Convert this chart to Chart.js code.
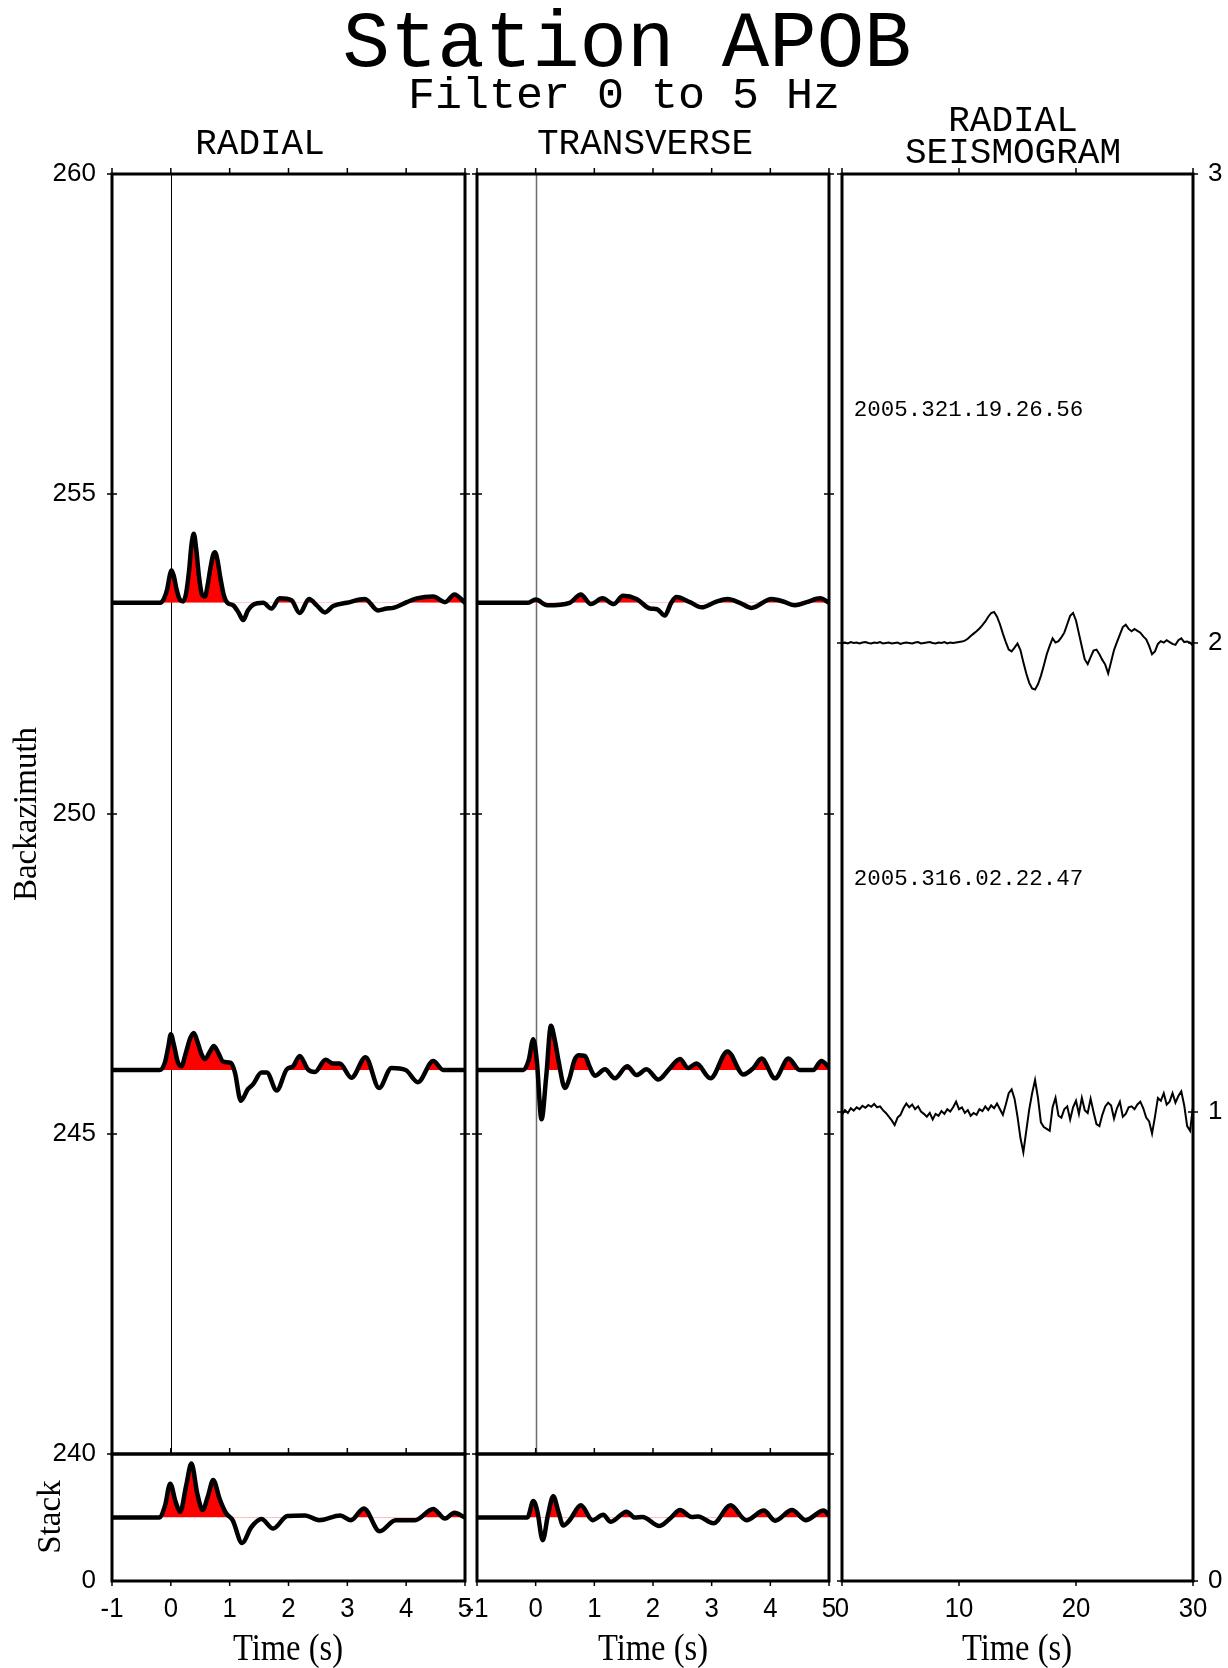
<!DOCTYPE html>
<html>
<head>
<meta charset="utf-8">
<title>Station APOB</title>
<script src="https://cdn.jsdelivr.net/npm/chart.js@4.4.0/dist/chart.umd.min.js"></script>
<style>
  html, body { margin: 0; padding: 0; background: #fff; }
  #page { position: relative; width: 1228px; height: 1668px; overflow: hidden; background: #fff; }
  #page canvas { position: absolute; left: 0; top: 0; }
</style>
</head>
<body>
<div id="page">
  <canvas id="radialMain" width="1228" height="1668"></canvas>
  <canvas id="radialStack" width="1228" height="1668"></canvas>
  <canvas id="transverseMain" width="1228" height="1668"></canvas>
  <canvas id="transverseStack" width="1228" height="1668"></canvas>
  <canvas id="seismograms" width="1228" height="1668"></canvas>
</div>
<script>
// ---------- station / events ----------
const stationName = 'APOB';
const filterText = 'Filter 0 to 5 Hz';
const eventIds = ['2005.321.19.26.56', '2005.316.02.22.47'];
const eventBackazimuth = [253.3, 246.0];
const eventLevel = [2, 1];

// ---------- receiver functions, event 2005.321 (baz 253.3) ----------
const radialTime1 = [-1, -0.18, -0.12, -0.06, -0.02, 0.01, 0.05, 0.1, 0.16, 0.21, 0.26, 0.31, 0.35, 0.39, 0.43, 0.48, 0.53, 0.58, 0.63, 0.68, 0.72, 0.75, 0.79, 0.84, 0.9, 0.96, 1.06, 1.15, 1.23, 1.31, 1.4, 1.57, 1.71, 1.85, 2.05, 2.19, 2.35, 2.48, 2.62, 2.76, 2.99, 3.3, 3.52, 3.67, 3.78, 4.01, 4.18, 4.46, 4.66, 4.82, 5];
const radialAmp1 = [0, 0, 0.06, 0.22, 0.42, 0.51, 0.42, 0.2, 0.04, 0.02, 0.15, 0.5, 0.9, 1.08, 0.85, 0.4, 0.13, 0.1, 0.3, 0.58, 0.75, 0.79, 0.68, 0.4, 0.12, 0.0, -0.04, -0.15, -0.27, -0.12, -0.03, 0, -0.09, 0.07, 0.04, -0.16, 0.06, -0.04, -0.15, -0.05, 0, 0.06, -0.12, -0.09, -0.08, 0.01, 0.07, 0.10, 0.01, 0.13, 0];
const transverseTime1 = [-1, -0.13, 0.0, 0.2, 0.58, 0.77, 0.94, 1.14, 1.33, 1.49, 1.72, 1.95, 2.07, 2.2, 2.31, 2.4, 2.63, 2.83, 3.06, 3.27, 3.48, 3.68, 4.02, 4.22, 4.42, 4.62, 4.85, 5];
const transverseAmp1 = [0, 0, 0.05, -0.04, 0, 0.13, -0.02, 0.07, -0.02, 0.11, 0.06, -0.09, -0.1, -0.2, 0.0, 0.09, 0.01, -0.07, 0.01, 0.06, 0, -0.08, 0.06, 0.02, -0.04, 0.01, 0.07, 0];

// ---------- receiver functions, event 2005.316 (baz 246.0) ----------
const radialTime2 = [-1, -0.19, -0.1, -0.04, 0.0, 0.05, 0.12, 0.18, 0.25, 0.33, 0.39, 0.45, 0.52, 0.58, 0.66, 0.73, 0.8, 0.89, 1.02, 1.09, 1.19, 1.31, 1.4, 1.54, 1.63, 1.8, 1.97, 2.08, 2.19, 2.33, 2.45, 2.63, 2.76, 2.87, 3.07, 3.31, 3.54, 3.75, 3.99, 4.2, 4.46, 4.63, 5];
const radialAmp2 = [0, 0, 0.12, 0.38, 0.56, 0.4, 0.12, 0.06, 0.25, 0.5, 0.58, 0.45, 0.25, 0.17, 0.28, 0.375, 0.28, 0.13, 0.11, -0.04, -0.48, -0.30, -0.22, -0.04, -0.04, -0.32, 0.01, 0.06, 0.22, 0.01, -0.03, 0.16, 0.10, 0.10, -0.12, 0.20, -0.28, 0.03, 0, -0.19, 0.14, 0, 0];
const transverseTime2 = [-1, -0.21, -0.12, -0.04, 0.02, 0.1, 0.18, 0.26, 0.33, 0.39, 0.5, 0.58, 0.66, 0.73, 0.84, 0.92, 1.01, 1.18, 1.35, 1.56, 1.72, 1.89, 2.09, 2.29, 2.46, 2.6, 2.74, 2.98, 3.27, 3.54, 3.71, 3.85, 4.08, 4.31, 4.5, 4.73, 4.87, 5];
const transverseAmp2 = [0, 0, 0.15, 0.48, 0.14, -0.77, -0.1, 0.69, 0.45, 0.14, -0.28, -0.12, 0.15, 0.23, 0.22, 0.05, -0.09, 0.01, -0.13, 0.06, -0.08, 0.01, -0.15, 0.03, 0.17, 0.03, 0.10, -0.13, 0.29, -0.07, 0.03, 0.18, -0.13, 0.18, 0, 0, 0.14, 0.04];

// ---------- stacks ----------
const stackBase = 120;
const stackRadialTime = [-1, -0.2, -0.1, -0.01, 0.08, 0.16, 0.26, 0.35, 0.45, 0.54, 0.63, 0.72, 0.83, 0.94, 1.05, 1.21, 1.37, 1.54, 1.74, 1.98, 2.28, 2.52, 2.88, 3.06, 3.28, 3.55, 3.82, 4.15, 4.46, 4.66, 4.82, 5];
const stackRadialAmp = [0, 0, 22, 64, 30, 11, 60, 102, 45, 14, 40, 71, 35, 8, -5, -48, -18, -3, -21, 3, 4, -5, 4, -5, 17, -26, -5, -5, 16, -2, 9, 0];
const stackTransverseTime = [-1, -0.14, -0.04, 0.03, 0.12, 0.21, 0.3, 0.39, 0.47, 0.58, 0.77, 0.97, 1.15, 1.28, 1.55, 1.69, 1.82, 2.11, 2.31, 2.46, 2.66, 2.77, 3.03, 3.32, 3.59, 3.89, 4.08, 4.37, 4.6, 4.91, 5];
const stackTransverseAmp = [0, 0, 31, 11, -43, 5, 40, 10, -15, -5, 23, -5, 5, -8, 11, 0, 1, -16, 0, 14, 1, 2, -11, 23, -5, 13, -6, 14, -5, 13, 4];

// ---------- radial seismograms (start time and sample interval, s) ----------
const seisStart = 0;
const seisDelta = 0.25;
const seismogram1 = [
  0, 0.001, -0.001, 0.002, 0, 0.001, -0.001, 0.001, 0.002, 0,
  -0.001, 0.001, 0, 0.002, -0.001, 0, 0.001, -0.001, 0, 0.001,
  -0.002, 0, 0.001, 0, -0.001, 0.001, 0.002, -0.001, 0, 0.001,
  0.002, 0, -0.001, 0.001, 0, 0.002, -0.001, 0.001, 0, 0.001,
  0.002, 0.003,
  0.005, 0.009, 0.015, 0.020, 0.025, 0.031, 0.038, 0.046, 0.056, 0.064,
  0.066, 0.056, 0.040, 0.020, 0.002, -0.014, -0.018, -0.010, -0.001, -0.015,
  -0.041, -0.065, -0.085, -0.097, -0.099, -0.088, -0.070, -0.048, -0.024, -0.006,
  0.010, 0.001, 0.004, 0.012, 0.022, 0.040, 0.058, 0.064, 0.048, 0.020,
  -0.008, -0.035, -0.045, -0.030, -0.016, -0.014, -0.024, -0.036, -0.046, -0.065,
  -0.040, -0.015, 0.002, 0.018, 0.034, 0.039, 0.030, 0.025, 0.030, 0.026,
  0.022, 0.014, 0.008, -0.006, -0.024, -0.018, -0.002, 0.004, 0.001, 0.006,
  0.002, -0.002, -0.004, 0.006, 0.010, 0.002, 0.003, 0.001, -0.006
];
const seismogram2 = [
  -0.006, 0.004, -0.002, 0.008, 0.003, 0.010, 0.006, 0.013, 0.009, 0.015,
  0.011, 0.017, 0.010, 0.012, 0.004, -0.002, -0.010, -0.018, -0.028, -0.012,
  -0.006, 0.008, 0.018, 0.010, 0.016, 0.006, 0.012, 0.001, -0.004, -0.010,
  -0.002, -0.016, -0.004, -0.008, 0.002, -0.004, 0.006, 0.001, 0.010, 0.022,
  0.006, 0.010, -0.002, 0.004, -0.008, -0.002, -0.006, 0.006, 0.002, 0.012,
  0.004, 0.014, 0.008, 0.018, 0.006, -0.006, 0.016, 0.040, 0.048, 0.028,
  -0.010, -0.055, -0.086, -0.040, 0.005, 0.040, 0.068, 0.030, -0.022, -0.032,
  -0.036, -0.040, 0.010, 0.030, -0.008, -0.012, 0.006, 0.012, -0.016, 0.010,
  0.024, -0.004, 0.030, 0.004, -0.002, 0.028, 0.000, -0.026, -0.030, -0.006,
  0.012, 0.020, 0.014, -0.014, 0.008, 0.022, -0.010, -0.004, 0.010, 0.012,
  0.006, 0.016, 0.022, 0.008, -0.012, -0.020, -0.046, -0.010, 0.030, 0.024,
  0.040, 0.016, 0.022, 0.040, 0.020, 0.034, 0.044, 0.014, -0.030, -0.040,
  0.012
];

// ---------- axes ----------
const timeRange = [-1, 5];
const timeTicks = [-1, 0, 1, 2, 3, 4, 5];
const bazRange = [240, 260];
const bazTicks = [260, 255, 250, 245, 240];
const bazLabels = ['260', '255', '250', '245'];
const stackRange = [0, 240];
const stackLabels = ['240', '0'];
const seisTimeRange = [0, 30];
const seisTimeTicks = [0, 10, 20, 30];
const levelRange = [0, 3];
const levelTicks = [3, 2, 1, 0];

// ---------- page layout ----------
const W = 1228, H = 1668;
const colRadial = { left: 112, right: 465 };
const colTransverse = { left: 477, right: 829 };
const colSeis = { left: 842, right: 1193 };
const rowTop = 174, rowSplit = 1454, rowBottom = 1581;

const toPoints = (t, a, base) => t.map((x, i) => ({ x: x, y: base + a[i] }));
const seisPoints = (vals, base) => vals.map((v, i) => ({ x: seisStart + i * seisDelta, y: base + v }));

function traceSet(points, base) {
  return {
    data: points,
    borderColor: '#000',
    borderWidth: 4.5,
    borderJoinStyle: 'round',
    borderCapStyle: 'round',
    pointRadius: 0,
    cubicInterpolationMode: 'monotone',
    fill: { target: { value: base }, above: '#ff0000', below: 'rgba(0,0,0,0)' }
  };
}

// frames, ticks, tick labels and the t = 0 marker of one panel
const panelFrame = {
  id: 'panelFrame',
  beforeDatasetsDraw(chart, args, o) {
    if (!o.zeroLine) return;
    const { ctx, chartArea: a, scales: { x } } = chart;
    const px = Math.round(x.getPixelForValue(0)) + 0.5;
    ctx.save();
    ctx.strokeStyle = o.zeroLine;
    ctx.lineWidth = o.zeroWidth || 1;
    ctx.beginPath();
    ctx.moveTo(px, a.top);
    ctx.lineTo(px, a.bottom);
    ctx.stroke();
    ctx.restore();
  },
  afterDatasetsDraw(chart, args, o) {
    const { ctx, chartArea: a, scales: { x, y } } = chart;
    ctx.save();
    ctx.strokeStyle = '#000';
    ctx.lineWidth = 3;
    ctx.strokeRect(a.left, a.top, a.right - a.left, a.bottom - a.top);
    ctx.lineWidth = 1.5;
    ctx.beginPath();
    (o.xTicks || []).forEach(v => {
      const px = x.getPixelForValue(v);
      if (o.topTicks) { ctx.moveTo(px, a.top); ctx.lineTo(px, a.top - 6); }
      if (o.bottomTicks) { ctx.moveTo(px, a.bottom); ctx.lineTo(px, a.bottom + 5); }
    });
    (o.yTicks || []).forEach(v => {
      const py = y.getPixelForValue(v);
      ctx.moveTo(a.left - 5, py); ctx.lineTo(a.left + 5, py);
      ctx.moveTo(a.right - 5, py); ctx.lineTo(a.right + 5, py);
    });
    ctx.stroke();

    ctx.fillStyle = '#000';
    if (o.xLabels) {
      ctx.font = '28px "Liberation Sans", Arial, sans-serif';
      ctx.textAlign = 'center';
      ctx.textBaseline = 'middle';
      (o.xTicks || []).forEach(v => {
        ctx.save();
        ctx.translate(x.getPixelForValue(v), a.bottom + 28);
        ctx.scale(0.92, 1);
        ctx.fillText(String(v), 0, 0);
        ctx.restore();
      });
    }
    ctx.font = '26px "Liberation Sans", Arial, sans-serif';
    ctx.textBaseline = 'middle';
    if (o.leftLabels) {
      ctx.textAlign = 'right';
      o.leftLabels.forEach(s => ctx.fillText(s, a.left - 16, y.getPixelForValue(Number(s))));
    }
    if (o.rightLabels) {
      ctx.textAlign = 'left';
      o.rightLabels.forEach(v => ctx.fillText(String(v), a.right + 15, y.getPixelForValue(v)));
    }
    ctx.restore();
  }
};

// titles, column headings, axis titles and event names
const pageText = {
  id: 'pageText',
  afterDraw(chart) {
    const ctx = chart.ctx;
    const { x, y } = chart.scales;
    ctx.save();
    ctx.fillStyle = '#000';
    ctx.textBaseline = 'alphabetic';
    ctx.textAlign = 'center';
    const mono = '"Liberation Mono", "DejaVu Sans Mono", monospace';
    ctx.font = '79px ' + mono;
    ctx.fillText('Station ' + stationName, 627, 66);
    ctx.font = '45px ' + mono;
    ctx.fillText(filterText, 624, 108);
    ctx.font = '36px ' + mono;
    ctx.fillText('RADIAL', 260, 154);
    ctx.fillText('TRANSVERSE', 645, 154);
    ctx.fillText('RADIAL', 1013, 131);
    ctx.fillText('SEISMOGRAM', 1013, 163);

    ctx.textAlign = 'left';
    ctx.font = '22.5px ' + mono;
    eventIds.forEach((id, i) => {
      ctx.fillText(id, x.getPixelForValue(1.0), y.getPixelForValue(eventLevel[i] + 0.485));
    });

    const serif = '"Liberation Serif", "Times New Roman", serif';
    ctx.textAlign = 'center';
    ctx.font = '37px ' + serif;
    [288, 653, 1017].forEach(cx => {
      ctx.save();
      ctx.translate(cx, 1660);
      ctx.scale(0.88, 1);
      ctx.fillText('Time (s)', 0, 0);
      ctx.restore();
    });

    ctx.font = '33px ' + serif;
    ctx.textBaseline = 'middle';
    [['Backazimuth', 27, 814], ['Stack', 51, 1517]].forEach(([s, cx, cy]) => {
      ctx.save();
      ctx.translate(cx, cy);
      ctx.rotate(-Math.PI / 2);
      ctx.fillText(s, 0, 0);
      ctx.restore();
    });
    ctx.restore();
  }
};

function panel(id, area, xr, yr, datasets, frameOpts, extraPlugins) {
  return new Chart(document.getElementById(id), {
    type: 'line',
    data: { datasets: datasets },
    options: {
      responsive: false,
      animation: false,
      devicePixelRatio: 1,
      events: [],
      layout: { padding: { left: area.left, right: W - area.right, top: area.top, bottom: H - area.bottom } },
      plugins: {
        legend: { display: false },
        tooltip: { enabled: false },
        title: { display: false },
        panelFrame: frameOpts
      },
      scales: {
        x: { type: 'linear', min: xr[0], max: xr[1], display: false },
        y: { type: 'linear', min: yr[0], max: yr[1], display: false }
      },
      elements: { point: { radius: 0 } }
    },
    plugins: [panelFrame].concat(extraPlugins || [])
  });
}

// radial receiver functions
panel('radialMain',
  { left: colRadial.left, right: colRadial.right, top: rowTop, bottom: rowSplit },
  timeRange, bazRange,
  [traceSet(toPoints(radialTime1, radialAmp1, eventBackazimuth[0]), eventBackazimuth[0]),
   traceSet(toPoints(radialTime2, radialAmp2, eventBackazimuth[1]), eventBackazimuth[1])],
  { zeroLine: '#000', zeroWidth: 1, xTicks: timeTicks, topTicks: true, yTicks: bazTicks, leftLabels: bazLabels });

panel('radialStack',
  { left: colRadial.left, right: colRadial.right, top: rowSplit, bottom: rowBottom },
  timeRange, stackRange,
  [traceSet(toPoints(stackRadialTime, stackRadialAmp, stackBase), stackBase)],
  { xTicks: timeTicks, topTicks: true, bottomTicks: true, xLabels: true, leftLabels: stackLabels });

// transverse receiver functions
panel('transverseMain',
  { left: colTransverse.left, right: colTransverse.right, top: rowTop, bottom: rowSplit },
  timeRange, bazRange,
  [traceSet(toPoints(transverseTime1, transverseAmp1, eventBackazimuth[0]), eventBackazimuth[0]),
   traceSet(toPoints(transverseTime2, transverseAmp2, eventBackazimuth[1]), eventBackazimuth[1])],
  { zeroLine: '#6e6e6e', zeroWidth: 1.5, xTicks: timeTicks, topTicks: true, yTicks: bazTicks });

panel('transverseStack',
  { left: colTransverse.left, right: colTransverse.right, top: rowSplit, bottom: rowBottom },
  timeRange, stackRange,
  [traceSet(toPoints(stackTransverseTime, stackTransverseAmp, stackBase), stackBase)],
  { xTicks: timeTicks, topTicks: true, bottomTicks: true, xLabels: true });

// radial seismograms
const seisLine = pts => ({ data: pts, borderColor: '#000', borderWidth: 2, pointRadius: 0, tension: 0, fill: false });
panel('seismograms',
  { left: colSeis.left, right: colSeis.right, top: rowTop, bottom: rowBottom },
  seisTimeRange, levelRange,
  [seisLine(seisPoints(seismogram1, eventLevel[0])), seisLine(seisPoints(seismogram2, eventLevel[1]))],
  { xTicks: seisTimeTicks, topTicks: true, bottomTicks: true, xLabels: true, yTicks: levelTicks, rightLabels: levelTicks },
  [pageText]);
</script>
</body>
</html>
